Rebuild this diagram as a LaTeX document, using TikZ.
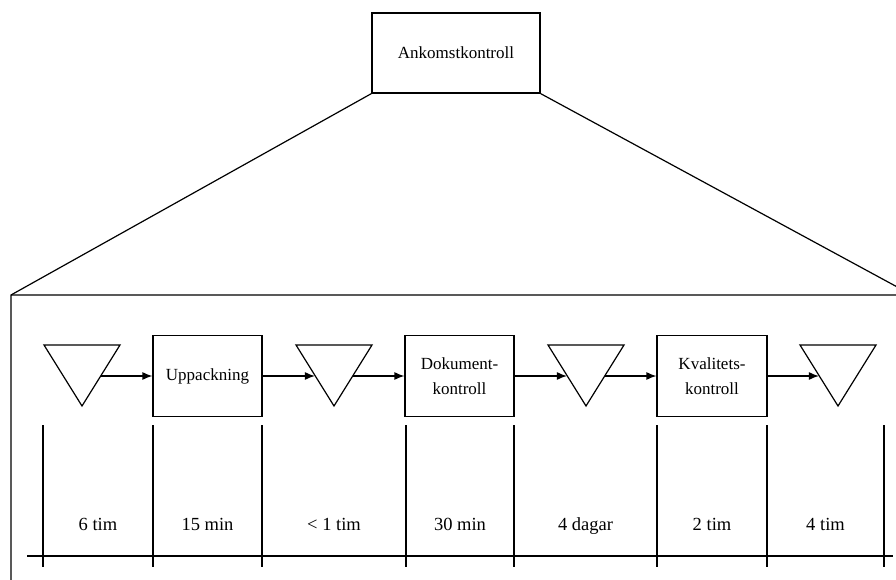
\documentclass[tikz,border=0pt]{standalone}
\usepackage{fontspec}
\setmainfont{Liberation Serif}
\usetikzlibrary{%
  arrows.meta,%
  calc%
}
\tikzset{
  box/.style={draw,line width=1.2pt,inner sep=2pt,align=center,
    font=\fontsize{17}{25}\selectfont},
  lager/.style={inner sep=0pt,minimum width=37pt,minimum height=0pt},
  flow/.style={line width=1.2pt,-{Latex[length=10pt,width=8pt]}},
  tid/.style={anchor=base,font=\fontsize{18.5}{23}\selectfont}
}
\begin{document}
\begin{tikzpicture}[x=1pt,y=-1pt,line width=1.2pt]
  \useasboundingbox (0,0) rectangle (896,580);
  \node[box,minimum width=168pt,minimum height=80pt] (ank) at (456,53) {Ankomstkontroll};
  \coordinate (fl) at (11,295);
  \coordinate (fr) at (912,295);
  \coordinate (fb) at (11,600);
  \draw (ank.south west) -- (fl) -- (fb);
  \draw (ank.south east) -- (fr) -- (fl);
  % lager (triangles)
  \foreach \n/\x in {w1/82,w2/334,w3/586,w4/838}{
    \node[lager] (\n) at (\x,376) {};
    \draw ($(\n)+(-38,-31)$) -- ++(76,0) -- ($(\n)+(0,30)$) -- cycle;
  }
  \node[box,minimum width=109pt,minimum height=81pt] (upp) at (207.5,376) {Uppackning};
  \node[box,minimum width=109pt,minimum height=81pt] (dok) at (459.5,376) {Dokument-\\kontroll};
  \node[box,minimum width=110pt,minimum height=81pt] (kva) at (712,376) {Kvalitets-\\kontroll};
  \draw[flow] (w1.east) -- (upp.west);
  \draw[flow] (upp.east) -- (w2.west);
  \draw[flow] (w2.east) -- (dok.west);
  \draw[flow] (dok.east) -- (w3.west);
  \draw[flow] (w3.east) -- (kva.west);
  \draw[flow] (kva.east) -- (w4.west);
  % tidslinje
  \coordinate (ta) at (27,556);
  \coordinate (tb) at (893,556);
  \draw (ta) -- (tb);
  \foreach \x in {43,153,262,406,514,657,767,884}
    \draw (\x,425) -- (\x,567);
  \foreach \a/\b/\t [count=\i] in {43/153/6 tim,153/262/15 min,262/406/< 1 tim,
      406/514/30 min,514/657/4 dagar,657/767/2 tim,767/884/4 tim}
    \node[tid] (t\i) at ({(\a+\b)/2},530) {\t};
\end{tikzpicture}
\end{document}
